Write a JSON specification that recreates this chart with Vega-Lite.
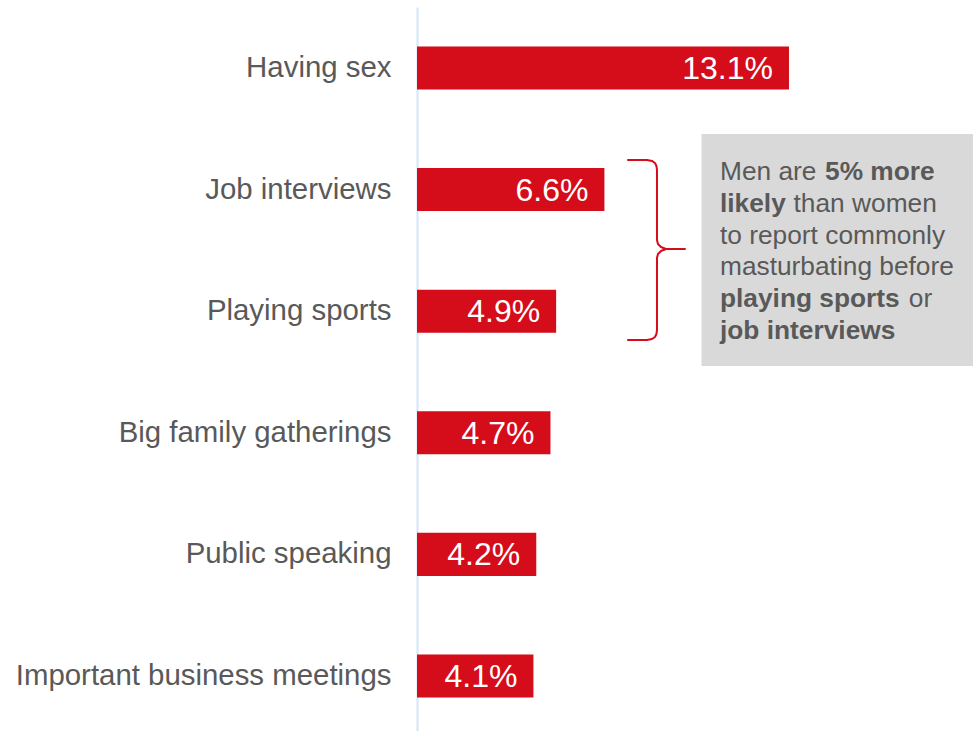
{
  "$schema": "https://vega.github.io/schema/vega-lite/v6.json",
  "width": 556,
  "height": 724,
  "autosize": {"type": "none"},
  "padding": {"left": 417, "top": 7, "right": 0, "bottom": 0},
  "background": "white",
  "config": {"view": {"stroke": null}, "font": "Liberation Sans"},
  "datasets": {
    "bars": [
      {"cat": "Having sex", "value": 13.1, "label": "13.1%"},
      {"cat": "Job interviews", "value": 6.6, "label": "6.6%"},
      {"cat": "Playing sports", "value": 4.9, "label": "4.9%"},
      {"cat": "Big family gatherings", "value": 4.7, "label": "4.7%"},
      {"cat": "Public speaking", "value": 4.2, "label": "4.2%"},
      {"cat": "Important business meetings", "value": 4.1, "label": "4.1%"}
    ],
    "box": [{"x1": 10.02, "x2": 19.58, "y1": 1.044, "y2": 2.952}],
    "note": [
      {"text": "Men are", "bold": false, "tx": 10.67, "ty": 1.423},
      {"text": "5% more", "bold": true, "tx": 14.37, "ty": 1.423},
      {"text": "likely", "bold": true, "tx": 10.67, "ty": 1.683},
      {"text": "than women", "bold": false, "tx": 13.26, "ty": 1.683},
      {"text": "to report commonly", "bold": false, "tx": 10.67, "ty": 1.945},
      {"text": "masturbating before", "bold": false, "tx": 10.67, "ty": 2.206},
      {"text": "playing sports", "bold": true, "tx": 10.67, "ty": 2.467},
      {"text": "or", "bold": false, "tx": 17.32, "ty": 2.467},
      {"text": "job interviews", "bold": true, "tx": 10.67, "ty": 2.729}
    ],
    "brace": [
      {"i": 1, "bx": 7.430, "by": 1.258},
      {"i": 2, "bx": 8.099, "by": 1.258},
      {"i": 3, "bx": 8.275, "by": 1.266},
      {"i": 4, "bx": 8.380, "by": 1.283},
      {"i": 5, "bx": 8.433, "by": 1.308},
      {"i": 6, "bx": 8.451, "by": 1.340},
      {"i": 7, "bx": 8.451, "by": 1.916},
      {"i": 8, "bx": 8.486, "by": 1.949},
      {"i": 9, "bx": 8.592, "by": 1.974},
      {"i": 10, "bx": 8.768, "by": 1.990},
      {"i": 11, "bx": 9.437, "by": 1.990},
      {"i": 12, "bx": 8.768, "by": 1.990},
      {"i": 13, "bx": 8.592, "by": 2.007},
      {"i": 14, "bx": 8.486, "by": 2.031},
      {"i": 15, "bx": 8.451, "by": 2.064},
      {"i": 16, "bx": 8.451, "by": 2.656},
      {"i": 17, "bx": 8.433, "by": 2.689},
      {"i": 18, "bx": 8.380, "by": 2.714},
      {"i": 19, "bx": 8.275, "by": 2.730},
      {"i": 20, "bx": 8.099, "by": 2.738},
      {"i": 21, "bx": 7.430, "by": 2.738}
    ]
  },
  "layer": [
    {
      "data": {"name": "bars"},
      "encoding": {
        "y": {
          "field": "cat", "type": "nominal", "sort": null,
          "scale": {"paddingInner": 0.646, "paddingOuter": 0.3, "align": 0.541},
          "axis": {
            "title": null, "ticks": false, "grid": false,
            "domain": true, "domainColor": "#D3E5F6", "domainWidth": 2,
            "labelFont": "Liberation Sans", "labelFontSize": 29.4, "labelColor": "#595959",
            "labelPadding": 26, "labelLimit": 500
          }
        },
        "x": {"field": "value", "type": "quantitative", "scale": {"domain": [0, 19.58], "nice": false, "zero": true}, "axis": null}
      },
      "layer": [
        {"mark": {"type": "bar", "color": "#D50C1A"}},
        {
          "mark": {"type": "text", "align": "right", "baseline": "middle", "dx": -16, "dy": 1, "color": "white", "fontSize": 32, "font": "Liberation Sans"},
          "encoding": {"text": {"field": "label"}}
        }
      ]
    },
    {
      "data": {"name": "box"},
      "mark": {"type": "rect", "color": "#D9D9D9"},
      "encoding": {
        "x": {"field": "x1", "type": "quantitative", "scale": {"domain": [0, 19.58], "nice": false, "zero": true}, "axis": null},
        "x2": {"field": "x2"},
        "y": {"field": "y1", "type": "quantitative", "scale": {"domain": [0, 5.954], "reverse": true, "nice": false, "zero": false}, "axis": null},
        "y2": {"field": "y2"}
      }
    },
    {
      "data": {"name": "brace"},
      "mark": {"type": "line", "color": "#D50C1A", "strokeWidth": 2, "strokeJoin": "round", "strokeCap": "round"},
      "encoding": {
        "x": {"field": "bx", "type": "quantitative", "scale": {"domain": [0, 19.58], "nice": false, "zero": true}, "axis": null},
        "y": {"field": "by", "type": "quantitative", "scale": {"domain": [0, 5.954], "reverse": true, "nice": false, "zero": false}, "axis": null},
        "order": {"field": "i", "type": "quantitative"}
      }
    },
    {
      "data": {"name": "note"},
      "transform": [{"filter": "!datum.bold"}],
      "mark": {"type": "text", "align": "left", "baseline": "alphabetic", "fontSize": 26.3, "color": "#595959", "font": "Liberation Sans"},
      "encoding": {
        "x": {"field": "tx", "type": "quantitative", "scale": {"domain": [0, 19.58], "nice": false, "zero": true}, "axis": null},
        "y": {"field": "ty", "type": "quantitative", "scale": {"domain": [0, 5.954], "reverse": true, "nice": false, "zero": false}, "axis": null},
        "text": {"field": "text"}
      }
    },
    {
      "data": {"name": "note"},
      "transform": [{"filter": "datum.bold"}],
      "mark": {"type": "text", "align": "left", "baseline": "alphabetic", "fontSize": 26.3, "fontWeight": "bold", "color": "#595959", "font": "Liberation Sans"},
      "encoding": {
        "x": {"field": "tx", "type": "quantitative", "scale": {"domain": [0, 19.58], "nice": false, "zero": true}, "axis": null},
        "y": {"field": "ty", "type": "quantitative", "scale": {"domain": [0, 5.954], "reverse": true, "nice": false, "zero": false}, "axis": null},
        "text": {"field": "text"}
      }
    }
  ],
  "resolve": {"scale": {"y": "independent"}}
}
